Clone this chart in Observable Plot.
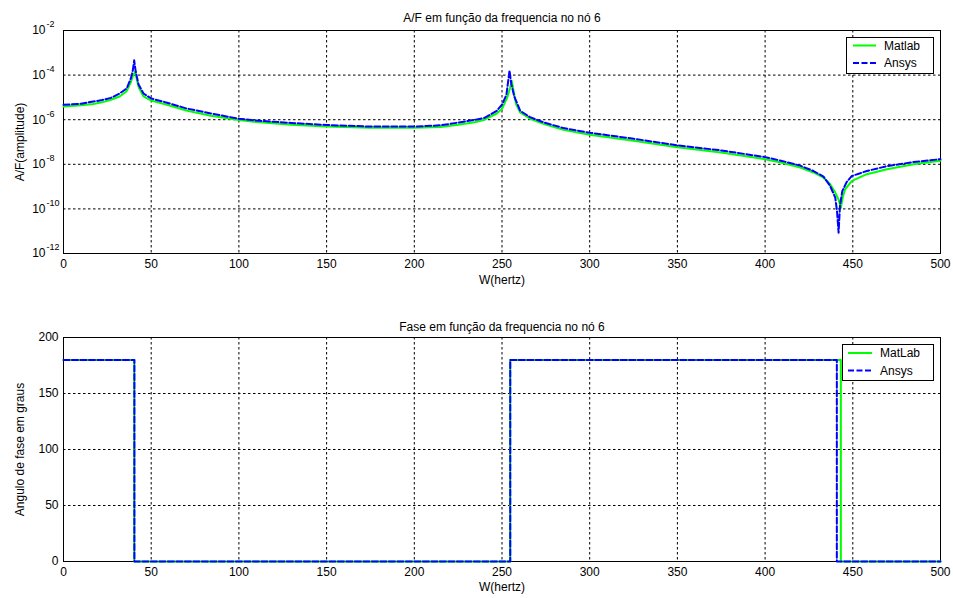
<!DOCTYPE html>
<html>
<head>
<meta charset="utf-8">
<script src="https://cdn.jsdelivr.net/npm/d3@7"></script>
<script src="https://cdn.jsdelivr.net/npm/@observablehq/plot@0.6"></script>
<style>
  html, body { margin: 0; padding: 0; background: white; }
  #chart { width: 953px; height: 598px; position: relative; }
  #chart svg { display: block; }
</style>
</head>
<body>
<div id="chart"></div>
<script>
// ---------- data ----------
const titleTop = "A/F em função da frequencia no nó 6";
const titleBottom = "Fase em função da frequencia no nó 6";
const xLabel = "W(hertz)";
const yLabelTop = "A/F(amplitude)";
const yLabelBottom = "Angulo de fase em graus";
const legendTop = ["Matlab", "Ansys"];
const legendBottom = ["MatLab", "Ansys"];

const xTicks = [0, 50, 100, 150, 200, 250, 300, 350, 400, 450, 500];
const ampTicks = [1e-12, 1e-10, 1e-8, 1e-6, 1e-4, 1e-2];
const ampTickExp = ["-12", "-10", "-8", "-6", "-4", "-2"];
const phaseTicks = [0, 50, 100, 150, 200];

// Amplitude (A/F) - Matlab
const matlabFreq = [0, 10, 17, 22, 27, 32, 36, 38.4, 39.5, 40.9, 41.8, 42.8, 45.6, 50, 59, 70, 84, 100, 112, 130, 150, 175, 200, 215, 225, 235, 240, 247, 250, 253, 254.5, 255.6, 257, 258, 260.4, 266, 273.6, 285, 300, 325, 350, 375, 400, 409, 420, 427.6, 433.3, 437, 440, 442, 443.2, 444.2, 445.6, 449.5, 458, 469.5, 484.6, 500];
const matlabAmp = [3.9e-6, 4.4e-6, 5.1e-6, 6.0e-6, 7.8e-6, 1.1e-5, 1.9e-5, 4.9e-5, 8.9e-5, 1.4e-4, 6.3e-5, 2.9e-5, 1.1e-5, 7.2e-6, 4.7e-6, 2.6e-6, 1.5e-6, 9.8e-7, 7.6e-7, 6.0e-7, 5.0e-7, 4.3e-7, 4.3e-7, 4.7e-7, 5.9e-7, 7.9e-7, 1.0e-6, 1.9e-6, 3.1e-6, 1.0e-5, 2.5e-5, 5.4e-5, 1.3e-5, 5.0e-6, 2.1e-6, 1.1e-6, 6.5e-7, 3.5e-7, 2.1e-7, 1.15e-7, 5.8e-8, 3.4e-8, 1.7e-8, 1.2e-8, 7.2e-9, 4.3e-9, 2.5e-9, 1.3e-9, 5.4e-10, 2.5e-10, 1.1e-10, 3.2e-10, 7.6e-10, 1.8e-9, 3.6e-9, 6.0e-9, 1.0e-8, 1.45e-8];

// Amplitude (A/F) - Ansys
const ansysFreq = [0, 10, 17, 22, 27, 32, 36, 38.4, 39.5, 40.3, 41.2, 42.8, 45.6, 50, 59, 70, 84, 100, 112, 130, 150, 175, 200, 215, 225, 235, 240, 247, 250, 252.5, 254.3, 255.3, 257, 260.4, 266, 273.6, 285, 300, 325, 350, 375, 400, 409, 420, 427.6, 433.3, 437, 440, 441, 441.9, 442.7, 444, 446.5, 449.5, 458, 469.5, 484.6, 500];
const ansysAmp = [4.7e-6, 5.2e-6, 6.5e-6, 7.6e-6, 9.5e-6, 1.5e-5, 2.5e-5, 7.1e-5, 1.6e-4, 4.6e-4, 1.4e-4, 3.8e-5, 1.5e-5, 8.9e-6, 5.8e-6, 3.2e-6, 1.9e-6, 1.1e-6, 8.9e-7, 7.1e-7, 5.8e-7, 4.9e-7, 4.9e-7, 5.6e-7, 7.4e-7, 1.0e-6, 1.2e-6, 2.5e-6, 4.7e-6, 1.3e-5, 1.6e-4, 4.0e-5, 1.1e-5, 2.5e-6, 1.3e-6, 7.6e-7, 4.2e-7, 2.6e-7, 1.4e-7, 7.1e-8, 4.2e-8, 2.1e-8, 1.45e-8, 8.7e-9, 5.0e-9, 2.8e-9, 1.1e-9, 3.2e-10, 7.9e-11, 8.5e-12, 1.4e-10, 6.3e-10, 1.6e-9, 3.0e-9, 5.0e-9, 8.3e-9, 1.26e-8, 1.7e-8];

// Phase (degrees)
const phaseMatlabFreq = [0, 40.4, 40.4, 254.7, 254.7, 443.2, 443.2, 500];
const phaseMatlabDeg  = [180, 180, 0, 0, 180, 180, 0, 0];
const phaseAnsysFreq  = [0, 40.4, 40.4, 254.7, 254.7, 440.9, 440.9, 500];
const phaseAnsysDeg   = [180, 180, 0, 0, 180, 180, 0, 0];

// ---------- build ----------
const FONT = "'Liberation Sans', Arial, Helvetica, sans-serif";
const GREEN = "#00ff00";
const BLUE = "#0000ff";
const GRID_DASH = "2.5,2.5";
const LINE_DASH = "6,2.5";

const toRows = (f, a) => f.map((x, i) => ({x, y: a[i]}));
const mData = toRows(matlabFreq, matlabAmp);
const aData = toRows(ansysFreq, ansysAmp);
const pmData = toRows(phaseMatlabFreq, phaseMatlabDeg);
const paData = toRows(phaseAnsysFreq, phaseAnsysDeg);

const W = 953;
const ML = 63, MR = 13;

const topPlot = Plot.plot({
  width: W, height: 299,
  marginLeft: ML, marginRight: MR, marginTop: 30, marginBottom: 46,
  style: {fontFamily: FONT, fontSize: "12px", background: "white", color: "black", overflow: "visible"},
  x: {domain: [0, 500], axis: null},
  y: {type: "log", domain: [1e-12, 1e-2], axis: null},
  marks: [
    Plot.gridX(xTicks, {stroke: "black", strokeOpacity: 1, strokeDasharray: GRID_DASH}),
    Plot.gridY(ampTicks, {stroke: "black", strokeOpacity: 1, strokeDasharray: GRID_DASH}),
    Plot.text(xTicks, {x: d => d, frameAnchor: "bottom", text: d => String(d), textAnchor: "middle", lineAnchor: "top", dy: 6, fontSize: 12}),
    Plot.text(ampTicks, {y: d => d, frameAnchor: "left", text: () => "10", textAnchor: "end", dx: -18, fontSize: 12}),
    Plot.text(ampTicks, {y: d => d, frameAnchor: "left", text: (d, i) => ampTickExp[i], textAnchor: "start", dx: -17, dy: -6, fontSize: 9}),
    Plot.frame({stroke: "black", strokeWidth: 1}),
    Plot.line(mData, {x: "x", y: "y", stroke: GREEN, strokeWidth: 2}),
    Plot.line(aData, {x: "x", y: "y", stroke: BLUE, strokeWidth: 2, strokeDasharray: LINE_DASH}),
    Plot.text([titleTop], {frameAnchor: "top", text: d => d, textAnchor: "middle", dy: -17, fontSize: 12}),
    Plot.text([xLabel], {frameAnchor: "bottom", text: d => d, textAnchor: "middle", dy: 30, fontSize: 12}),
    Plot.text([yLabelTop], {frameAnchor: "left", text: d => d, textAnchor: "middle", rotate: -90, dx: -43, fontSize: 12})
  ]
});

const bottomPlot = Plot.plot({
  width: W, height: 299,
  marginLeft: ML, marginRight: MR, marginTop: 38, marginBottom: 37,
  style: {fontFamily: FONT, fontSize: "12px", background: "white", color: "black", overflow: "visible"},
  x: {domain: [0, 500], axis: null},
  y: {domain: [0, 200], axis: null},
  marks: [
    Plot.gridX(xTicks, {stroke: "black", strokeOpacity: 1, strokeDasharray: GRID_DASH}),
    Plot.gridY(phaseTicks, {stroke: "black", strokeOpacity: 1, strokeDasharray: GRID_DASH}),
    Plot.text(xTicks, {x: d => d, frameAnchor: "bottom", text: d => String(d), textAnchor: "middle", lineAnchor: "top", dy: 6, fontSize: 12}),
    Plot.text(phaseTicks, {y: d => d, frameAnchor: "left", text: d => String(d), textAnchor: "end", dx: -5, fontSize: 12}),
    Plot.frame({stroke: "black", strokeWidth: 1}),
    Plot.line(pmData, {x: "x", y: "y", stroke: GREEN, strokeWidth: 2}),
    Plot.line(paData, {x: "x", y: "y", stroke: BLUE, strokeWidth: 2, strokeDasharray: LINE_DASH}),
    Plot.text([titleBottom], {frameAnchor: "top", text: d => d, textAnchor: "middle", dy: -15, fontSize: 12}),
    Plot.text([xLabel], {frameAnchor: "bottom", text: d => d, textAnchor: "middle", dy: 29, fontSize: 12}),
    Plot.text([yLabelBottom], {frameAnchor: "left", text: d => d, textAnchor: "middle", rotate: -90, dx: -43, fontSize: 12})
  ]
});

function addLegend(svgNode, box, labels) {
  const svg = d3.select(svgNode);
  const g = svg.append("g").attr("font-family", FONT).attr("font-size", 12).attr("text-anchor", "start");
  g.append("rect")
    .attr("x", box.x + 0.5).attr("y", box.y + 0.5)
    .attr("width", box.w).attr("height", box.h)
    .attr("fill", "white").attr("stroke", "black");
  const rows = [
    {label: labels[0], color: GREEN, dash: null},
    {label: labels[1], color: BLUE, dash: LINE_DASH}
  ];
  rows.forEach((r, i) => {
    const yy = box.y + box.rowY[i];
    const ln = g.append("line")
      .attr("x1", box.lx1).attr("x2", box.lx2)
      .attr("y1", yy).attr("y2", yy)
      .attr("stroke", r.color).attr("stroke-width", 2);
    if (r.dash) ln.attr("stroke-dasharray", r.dash);
    g.append("text").attr("x", box.tx).attr("y", yy).attr("dy", "0.35em")
      .attr("text-anchor", "start").attr("fill", "black").text(r.label);
  });
}

addLegend(topPlot, {x: 846, y: 37, w: 87, h: 36, rowY: [8.5, 26], lx1: 853, lx2: 876, tx: 884}, legendTop);
addLegend(bottomPlot, {x: 842, y: 45, w: 91, h: 36, rowY: [9, 26.5], lx1: 848, lx2: 872, tx: 880}, legendBottom);

const chart = document.getElementById("chart");
chart.appendChild(topPlot);
chart.appendChild(bottomPlot);
</script>
</body>
</html>
